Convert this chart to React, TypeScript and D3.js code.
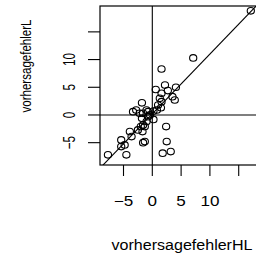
import React from 'react';
import * as d3 from 'd3';

// forecast errors: HL method (x) vs L method (y)
const fehlerHL = [17.1, 7.1, 1.6, 2.2, 4.1, 0.6, 2.7, 1.6, 3.5, 3.9, 1.3, 1.6, 1.0, 1.5, 0.8, 0.2, -1.0, -1.8,
  -1.6, -0.4, 0.2, -1.8, -1.0, -1.6, 2.4, -1.7, -1.3, 2.5, 1.8, 3.2, -3.35, -2.8, -2.2, -0.75, -0.75, -2.0,
  -2.5, -3.9, -3.6, -5.4, -4.8, -5.4, -4.5, -7.7, -1.3, -1.6];
const fehlerL = [18.8, 10.3, 8.3, 5.4, 5.0, 4.6, 4.4, 3.9, 3.3, 2.7, 3.0, 2.4, 1.8, 1.3, 0.9, 0.7, 0.9, 2.2,
  0.3, 0.0, -0.8, -0.6, -1.2, -1.8, -2.1, -3.0, -4.8, -4.8, -6.9, -6.6, 0.6, 0.9, 0.3, 0.6, -0.3, -2.1,
  -2.7, -3.0, -3.9, -4.5, -5.4, -5.7, -7.2, -7.2, -2.1, -5.0];

const xTicks = [-5, 0, 5, 10, 15];
const xTickLabels = ['\u22125', '0', '5', '10', ''];
const yTicks = [-5, 0, 5, 10, 15];
const yTickLabels = ['\u22125', '0', '5', '10', ''];

// fitted line
const fitIntercept = 0.2;
const fitSlope = 1.08;

const font = "'Liberation Sans', Arial, Helvetica, sans-serif";

export default function App() {
  const left = 100, right = 264, top = 6, bottom = 165;
  const x = d3.scaleLinear().domain([-9.08, 19.39]).range([left, right]);
  const y = d3.scaleLinear().domain([-9.03, 19.67]).range([bottom, top]);
  const [x0, x1] = x.domain();

  const fitLine = d3.line<number>()
    .x(d => x(d))
    .y(d => y(fitIntercept + fitSlope * d));

  const points = fehlerHL.map((v, i) => [v, fehlerL[i]]);

  return (
    <svg width={256} height={256} style={{position: 'absolute', left: 0, top: 0}}>
      <defs>
        <clipPath id="plotArea">
          <rect x={left} y={top} width={right - left} height={bottom - top} />
        </clipPath>
      </defs>
      <rect width={256} height={256} fill="white" />

      {/* reference lines */}
      <g clipPath="url(#plotArea)" stroke="black" strokeWidth={1.1} fill="none">
        <line x1={left} x2={right} y1={y(0)} y2={y(0)} />
        <line x1={x(0)} x2={x(0)} y1={top} y2={bottom} />
        <path d={fitLine([x0, x1]) || ''} />
      </g>

      {/* points */}
      <g fill="none" stroke="black" strokeWidth={1.1}>
        {points.map((p, i) => (
          <ellipse key={i} cx={x(p[0])} cy={y(p[1])} rx={3.6} ry={3.3} />
        ))}
      </g>

      {/* box */}
      <rect x={left} y={top} width={right - left} height={bottom - top} fill="none" stroke="black" strokeWidth={1.2} />

      {/* x axis */}
      <g stroke="black" strokeWidth={1.1}>
        {xTicks.map(t => <line key={t} x1={x(t)} x2={x(t)} y1={bottom} y2={bottom + 11} />)}
      </g>
      {xTicks.map((t, i) => (
        <g key={'xl' + t} transform={`translate(${x(t)},206) scale(1.22,1)`}>
          <text textAnchor="middle" fontFamily={font} fontSize={14}>{xTickLabels[i]}</text>
        </g>
      ))}
      <text x={182} y={250} textAnchor="middle" fontFamily={font} fontSize={14}
        textLength={141} lengthAdjust="spacingAndGlyphs">vorhersagefehlerHL</text>

      {/* y axis */}
      <g stroke="black" strokeWidth={1.1}>
        {yTicks.map(t => <line key={t} x1={left - 12} x2={left} y1={y(t)} y2={y(t)} />)}
      </g>
      {yTicks.map((t, i) => (
        <g key={'yl' + t} transform={`translate(75,${y(t)}) scale(1.43,1) rotate(-90)`}>
          <text textAnchor="middle" fontFamily={font} fontSize={11.7}>{yTickLabels[i]}</text>
        </g>
      ))}
      <g transform={`translate(31,66) scale(1.3,1) rotate(-90)`}>
        <text textAnchor="middle" fontFamily={font} fontSize={11.5}
          textLength={93} lengthAdjust="spacingAndGlyphs">vorhersagefehlerL</text>
      </g>
    </svg>
  );
}
